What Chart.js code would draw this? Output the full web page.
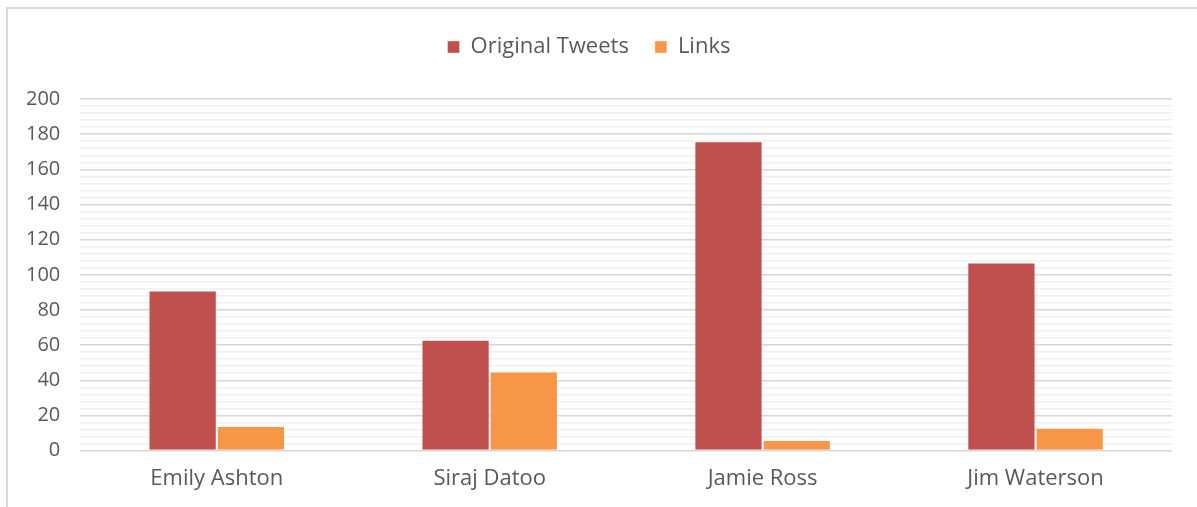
<!DOCTYPE html>
<html>
<head>
<meta charset="utf-8">
<title>Original Tweets and Links</title>
<script src="https://cdn.jsdelivr.net/npm/chart.js@4/dist/chart.umd.min.js"></script>
<style>
  html, body { margin: 0; padding: 0; background: #fff; overflow: hidden; }
  #frame {
    position: absolute; left: 6px; top: 7px;
    width: 1300px; height: 600px;
    border: 2px solid #d9d9d9;
  }
  #wrap { position: absolute; left: 0; top: 0; width: 1197px; height: 507px; }
</style>
</head>
<body>
<div id="frame"></div>
<div id="wrap"><canvas id="tweets-chart"></canvas></div>
<script>
(function() {
  'use strict';

  var people = ['Emily Ashton', 'Siraj Datoo', 'Jamie Ross', 'Jim Waterson'];
  var originalTweets = [91, 63, 176, 107];
  var links = [14, 45, 6, 13];

  var yMin = 0;
  var yMax = 200;
  var labelStep = 20;
  var minorStep = 4;

  var textColor = '#595959';
  var fontFamily = '"Open Sans", "Liberation Sans", sans-serif';

  // extra room between the legend and the plot area
  var legendGap = {
    id: 'legendGap',
    beforeInit: function(chart) {
      var origFit = chart.legend.fit;
      chart.legend.fit = function() {
        origFit.call(this);
        this.height += 31;
      };
    }
  };

  var ctx = document.getElementById('tweets-chart').getContext('2d');
  new Chart(ctx, {
    type: 'bar',
    data: {
      labels: people,
      datasets: [{
        label: 'Original Tweets',
        data: originalTweets,
        backgroundColor: '#c0504d',
        borderColor: 'rgba(255,255,255,0.35)',
        borderWidth: 1
      }, {
        label: 'Links',
        data: links,
        backgroundColor: '#f79646',
        borderColor: 'rgba(255,255,255,0.35)',
        borderWidth: 1
      }]
    },
    plugins: [legendGap],
    options: {
      responsive: true,
      maintainAspectRatio: false,
      animation: false,
      layout: { padding: { top: 10, right: 25, bottom: 0, left: 6 } },
      categoryPercentage: 0.5,
      barPercentage: 1.0,
      plugins: {
        tooltip: { enabled: false },
        legend: {
          position: 'top',
          labels: {
            color: textColor,
            font: { family: fontFamily, size: 22 },
            boxWidth: 12,
            boxHeight: 12,
            padding: 26
          }
        }
      },
      scales: {
        x: {
          grid: { display: false, drawTicks: false },
          border: { display: false },
          ticks: {
            color: textColor,
            font: { family: fontFamily, size: 22 },
            padding: 15
          }
        },
        y: {
          min: yMin,
          max: yMax,
          border: { display: false },
          grid: {
            drawTicks: false,
            lineWidth: 1.5,
            color: function(c) {
              return c.tick && c.tick.value % labelStep === 0 ? '#d6d6d6' : '#f0f0f0';
            }
          },
          ticks: {
            stepSize: minorStep,
            autoSkip: false,
            color: textColor,
            font: { family: fontFamily, size: 20 },
            padding: 20,
            callback: function(v) {
              return v % labelStep === 0 ? v : '';
            }
          }
        }
      }
    }
  });
})();
</script>
</body>
</html>
